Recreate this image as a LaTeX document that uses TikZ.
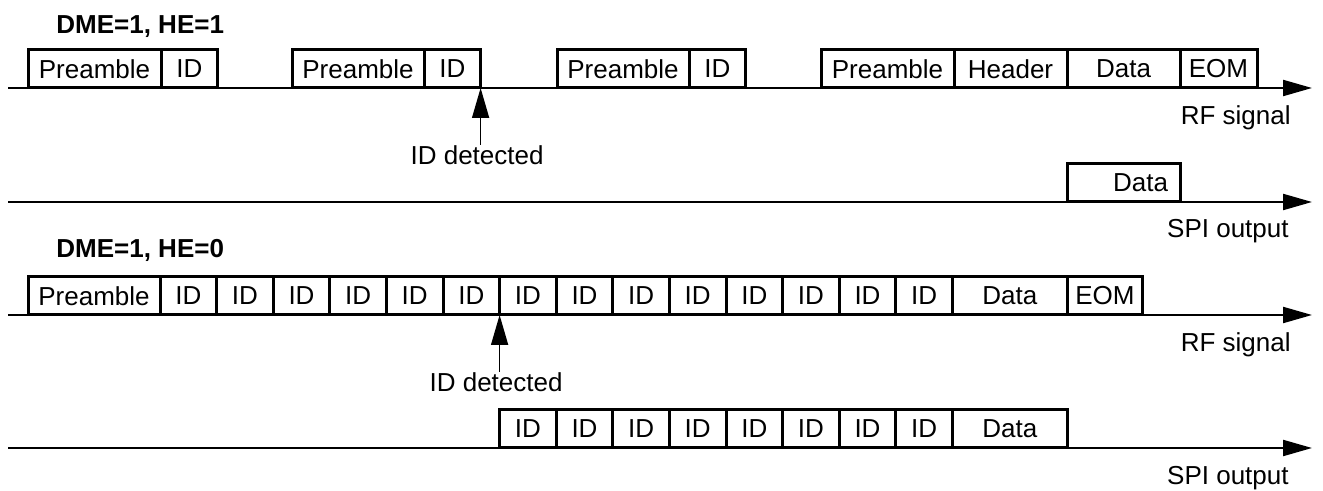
\documentclass[tikz,border=0pt]{standalone}
\usepackage{fontspec}
\setmainfont{Liberation Sans}
\usetikzlibrary{positioning}
\usetikzlibrary{arrows.meta}

\begin{document}
\begin{tikzpicture}[x=0.5pt,y=-0.5pt,
  field/.style={draw,line width=1.5pt,anchor=south west,minimum height=19pt,inner sep=0pt,outer sep=0pt,font=\fontsize{13}{15}\selectfont},
  idw/.style={minimum width=28.3pt},
  axis/.style={line width=1.1pt,-{Triangle[length=14.5pt,width=8pt]}},
  detarr/.style={line width=0.8pt,-{Triangle[length=15pt,width=8.5pt]}},
  lbl/.style={inner sep=0pt,font=\fontsize{13}{15}\selectfont},
  ttl/.style={inner sep=0pt,anchor=base west,font=\fontsize{13}{15}\selectfont\bfseries}]
\useasboundingbox (0,0) rectangle (1323,491);

% DME=1, HE=1
\node[ttl] (ttl1) at (56,34) {DME=1, HE=1};
\coordinate (rf1s) at (8,88);
\coordinate (rf1e) at (1312,88);
\coordinate (spi1s) at (8,202);
\coordinate (spi1e) at (1312,202);
\draw[axis] (rf1s) -- (rf1e);
\draw[axis] (spi1s) -- (spi1e);

\node[field,minimum width=66.5pt] (pre1) at (28,88) {Preamble};
\node[field,idw,right=0pt of pre1] (id1) {ID};
\node[field,minimum width=66pt] (pre2) at (292,88) {Preamble};
\node[field,idw,right=0pt of pre2] (id2) {ID};
\node[field,minimum width=66pt] (pre3) at (557,88) {Preamble};
\node[field,idw,right=0pt of pre3] (id3) {ID};
\node[field,minimum width=66.5pt] (pre4) at (821,88) {Preamble};
\node[field,minimum width=56.5pt,right=0pt of pre4] (hdr4) {Header};
\node[field,minimum width=56.5pt,right=0pt of hdr4] (dat4) {Data};
\node[field,minimum width=38.5pt,right=0pt of dat4] (eom4) {EOM};

\node[lbl,anchor=north] (det1) at ([shift={(-3.5,57)}]id2.south east) {ID detected};
\draw[detarr] (det1.north -| id2.south east) -- (id2.south east);

\node[field,minimum width=56.5pt,text width=44.5pt,align=right] (spidat) at (hdr4.south east |- spi1s) {Data};

\node[lbl,anchor=base east] (rf1) at (1291,125) {RF signal};
\node[lbl,anchor=base east] (spi1) at (1289,238) {SPI output};

% DME=1, HE=0
\node[ttl] (ttl2) at (56,258) {DME=1, HE=0};
\coordinate (rf2s) at (8,315);
\coordinate (rf2e) at (1312,315);
\coordinate (spi2s) at (8,448);
\coordinate (spi2e) at (1312,448);
\draw[axis] (rf2s) -- (rf2e);
\draw[axis] (spi2s) -- (spi2e);

\node[field,minimum width=66pt] (idb0) at (28,315) {Preamble};
\foreach \i [remember=\i as \last (initially 0)] in {1,...,14}
  \node[field,idw,right=0pt of idb\last] (idb\i) {ID};
\node[field,minimum width=57.5pt,right=0pt of idb14] (datb) {Data};
\node[field,minimum width=37.5pt,right=0pt of datb] (eomb) {EOM};

\node[lbl,anchor=north] (det2) at ([shift={(-3.5,57)}]idb6.south east) {ID detected};
\draw[detarr] (det2.north -| idb6.south east) -- (idb6.south east);

\node[field,idw] (sp1) at (idb6.south east |- spi2s) {ID};
\foreach \i [remember=\i as \last (initially 1)] in {2,...,8}
  \node[field,idw,right=0pt of sp\last] (sp\i) {ID};
\node[field,minimum width=57.5pt,right=0pt of sp8] (spdat) {Data};

\node[lbl,anchor=base east] (rf2) at (1291,352) {RF signal};
\node[lbl,anchor=base east] (spi2) at (1289,485) {SPI output};

\end{tikzpicture}
\end{document}
